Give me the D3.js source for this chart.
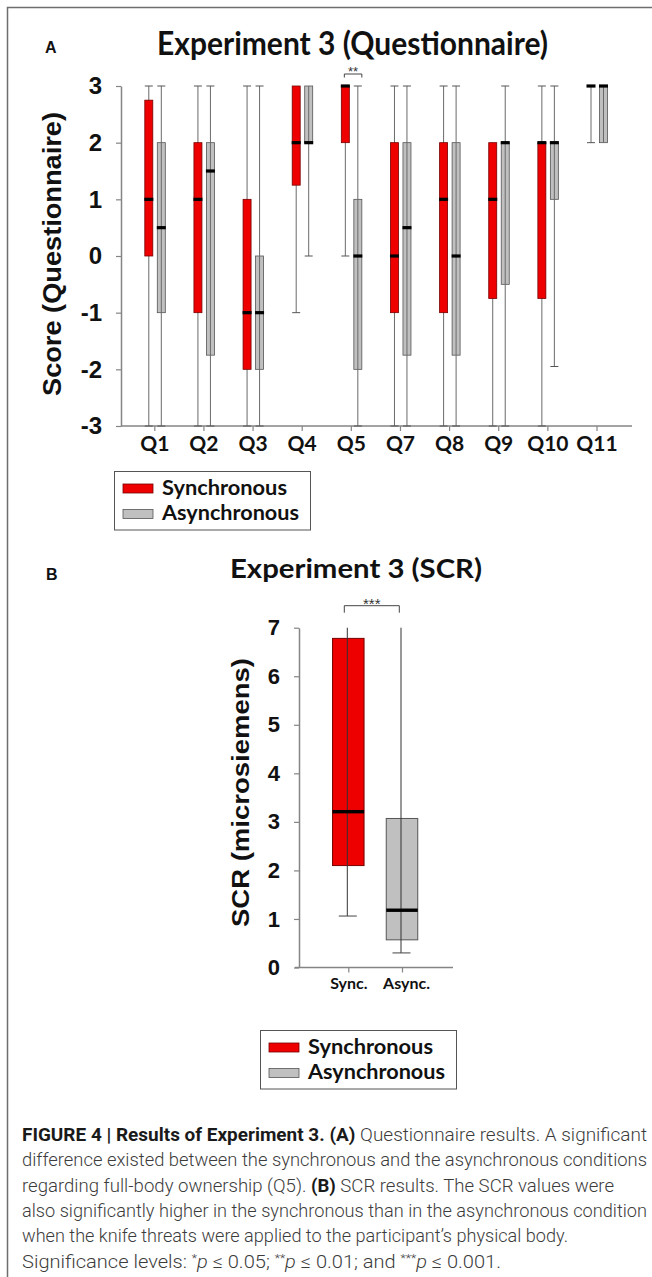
<!DOCTYPE html>
<html><head><meta charset="utf-8">
<script src="https://cdn.jsdelivr.net/npm/d3@7"></script>
<style>body{margin:0;background:#fff}svg{display:block}</style>
</head><body><svg id="c" width="652" height="1277"></svg>
<script>
// ---------- Panel A data ----------
const questions = ["Q1","Q2","Q3","Q4","Q5","Q7","Q8","Q9","Q10","Q11"];
const scoreTicks = [-3,-2,-1,0,1,2,3];
const syncLow  = [-3,-3,-3,-1, 0,-3,-3,-3,-3, 2];
const syncQ1   = [ 0,-1,-2,1.25,2,-1,-1,-0.75,-0.75,3];
const syncMed  = [ 1, 1,-1, 2, 3, 0, 1, 1, 2, 3];
const syncQ3   = [2.75,2,1, 3, 3, 2, 2, 2, 2, 3];
const syncHigh = [ 3, 3, 3, 3, 3, 3, 3, 2, 3, 3];
const asyncLow  = [-3,-3,-3, 0,-3,-3,-3,-3,-1.95,2];
const asyncQ1   = [-1,-1.75,-2,2,-2,-1.75,-1.75,-0.5,1,2];
const asyncMed  = [0.5,1.5,-1,2, 0,0.5, 0, 2, 2, 3];
const asyncQ3   = [ 2, 2, 0, 3, 1, 2, 2, 2, 2, 3];
const asyncHigh = [ 3, 3, 3, 3, 3, 3, 3, 3, 3, 3];
// ---------- Panel B data ----------
const scrConds = ["Sync.","Async."];
const scrTicks = [0,1,2,3,4,5,6,7];
const scrLow  = [1.06,0.30];
const scrQ1   = [2.10,0.57];
const scrMed  = [3.21,1.18];
const scrQ3   = [6.78,3.07];
const scrHigh = [7.0,7.0];
const legendLabels = ["Synchronous","Asynchronous"];

const RED = "#ee0000", GRAY = "#c0c0c0";
const calibri = "Lato, 'Open Sans', sans-serif";
const arial = "'Liberation Sans', Arial, sans-serif";
const W = 652, H = 1277;
const svg = d3.select("#c");
svg.append("rect").attr("width", W).attr("height", H).attr("fill", "#fff");
// frame
svg.append("path").attr("d", `M7.5,${H}V7.5H${W}`).attr("fill","none").attr("stroke","#6e6e6e").attr("stroke-width",1.5);

function fitText(g, txt, x, y, size, width, opts = {}) {
  const t = g.append("text").attr("x", x).attr("y", y)
    .attr("font-family", opts.family || calibri).attr("font-weight", opts.weight || 700)
    .attr("font-size", size).attr("fill", opts.fill || "#111")
    .attr("text-anchor", opts.anchor || "start").text(txt);
  if (width) t.attr("textLength", width).attr("lengthAdjust", "spacingAndGlyphs");
  if (opts.rotate) t.attr("transform", `rotate(${opts.rotate},${x},${y})`);
  return t;
}

// ---------- Panel A ----------
const gA = svg.append("g");
fitText(gA, "A", 45, 53, 16, null, {family: arial});
fitText(gA, "Experiment 3 (Questionnaire)", 352.5, 55, 33, 391, {anchor: "middle"});

const yA = d3.scaleLinear().domain([-3, 3]).range([426, 86]);
const xA = d3.scalePoint().domain(questions).range([154.3, 596.5]);
const AX = "#858585";

const yAxisA = gA.append("g").attr("transform", "translate(121,0)")
  .call(d3.axisLeft(yA).tickValues(scoreTicks).tickSize(5).tickSizeOuter(0).tickPadding(14).tickFormat(d => String(d)));
yAxisA.select(".domain").attr("stroke", AX).attr("stroke-width", 1.5);
yAxisA.selectAll(".tick line").attr("stroke", AX).attr("stroke-width", 1.2);
yAxisA.selectAll(".tick text").attr("font-family", arial).attr("font-weight", 700).attr("font-size", 24).attr("fill", "#111");

gA.append("line").attr("x1", 121).attr("x2", 632).attr("y1", 426).attr("y2", 426).attr("stroke", AX).attr("stroke-width", 1.5);
const xAxisA = gA.append("g").attr("transform", "translate(0,426)")
  .call(d3.axisBottom(xA).tickSize(5).tickSizeOuter(0));
xAxisA.select(".domain").remove();
xAxisA.selectAll(".tick line").attr("stroke", AX).attr("stroke-width", 1.2);
xAxisA.selectAll(".tick text").attr("font-family", calibri).attr("font-weight", 700).attr("font-size", 21)
  .attr("fill", "#111").attr("dy", null).attr("y", 24.7);

const boxW = 8, capW = 8;
const seriesA = [
  {off: -5.5, fill: RED, stroke: "#700", low: syncLow, q1: syncQ1, med: syncMed, q3: syncQ3, high: syncHigh, lineOver: false},
  {off: 7, fill: GRAY, stroke: "#555", low: asyncLow, q1: asyncQ1, med: asyncMed, q3: asyncQ3, high: asyncHigh, lineOver: true}
];
seriesA.forEach(s => {
  questions.forEach((q, i) => {
    const cx = xA(q) + s.off;
    const wl = () => gA.append("line").attr("x1", cx).attr("x2", cx)
      .attr("y1", yA(s.high[i])).attr("y2", yA(s.low[i])).attr("stroke", "#6a6a6a").attr("stroke-width", 1);
    if (!s.lineOver) wl();
    if (s.q3[i] > s.q1[i]) {
      gA.append("rect").attr("x", cx - boxW/2).attr("width", boxW)
        .attr("y", yA(s.q3[i])).attr("height", yA(s.q1[i]) - yA(s.q3[i]))
        .attr("fill", s.fill).attr("stroke", s.stroke).attr("stroke-width", 0.8);
    }
    if (s.lineOver) wl();
    if (s.high[i] > s.q3[i]) gA.append("line").attr("x1", cx - capW/2).attr("x2", cx + capW/2)
      .attr("y1", yA(s.high[i])).attr("y2", yA(s.high[i])).attr("stroke", "#555").attr("stroke-width", 1);
    if (s.low[i] < s.q1[i]) gA.append("line").attr("x1", cx - capW/2).attr("x2", cx + capW/2)
      .attr("y1", yA(s.low[i])).attr("y2", yA(s.low[i])).attr("stroke", "#555").attr("stroke-width", 1);
    gA.append("rect").attr("x", cx - boxW/2 - 0.5).attr("width", boxW + 1)
      .attr("y", yA(s.med[i]) - 1.6).attr("height", 3.2).attr("fill", "#000");
  });
});
// significance Q5
{
  const x0 = xA("Q5") - 6.5, x1 = xA("Q5") + 11;
  gA.append("path").attr("d", `M${x0},77.5V74H${x1}V77.5`).attr("fill", "none").attr("stroke", "#444").attr("stroke-width", 1);
  fitText(gA, "**", (x0 + x1) / 2, 76, 13, null, {family: arial, weight: 400, anchor: "middle", fill: "#333"});
}
fitText(gA, "Score (Questionnaire)", 61, 254, 26, 284, {family: arial, anchor: "middle", rotate: -90});

function legend(g, x, y) {
  g.append("rect").attr("x", x + 0.5).attr("y", y + 0.5).attr("width", 196).attr("height", 58.5)
    .attr("fill", "#fff").attr("stroke", "#555").attr("stroke-width", 1);
  [RED, GRAY].forEach((c, i) => {
    g.append("rect").attr("x", x + 9).attr("y", y + 13 + i * 25.5).attr("width", 30).attr("height", 9)
      .attr("fill", c).attr("stroke", i ? "#555" : "#700").attr("stroke-width", 0.8);
    fitText(g, legendLabels[i], x + 48, y + 23.5 + i * 25.5, 21, i ? 137 : 125);
  });
}
legend(gA, 114, 471);

// ---------- Panel B ----------
const gB = svg.append("g");
fitText(gB, "B", 46, 580, 16, null, {family: arial});
fitText(gB, "Experiment 3 (SCR)", 356, 578, 27, 252, {anchor: "middle"});

const yB = d3.scaleLinear().domain([0, 7]).range([967.5, 627.7]);
const xB = d3.scalePoint().domain(scrConds).range([348.3, 402]);
const yAxisB = gB.append("g").attr("transform", "translate(299,0)")
  .call(d3.axisLeft(yB).tickValues(scrTicks).tickSize(5).tickSizeOuter(0).tickPadding(14).tickFormat(d => String(d)));
yAxisB.select(".domain").attr("stroke", AX).attr("stroke-width", 1.5);
yAxisB.selectAll(".tick line").attr("stroke", AX).attr("stroke-width", 1.2);
yAxisB.selectAll(".tick text").attr("font-family", arial).attr("font-weight", 700).attr("font-size", 22).attr("fill", "#111");

gB.append("line").attr("x1", 295).attr("x2", 453).attr("y1", 967.5).attr("y2", 967.5).attr("stroke", AX).attr("stroke-width", 1.5);
const xAxisB = gB.append("g").attr("transform", "translate(0,967.5)")
  .call(d3.axisBottom(xB).tickSize(5).tickSizeOuter(0));
xAxisB.select(".domain").remove();
xAxisB.selectAll(".tick line").attr("stroke", AX).attr("stroke-width", 1.2);
xAxisB.selectAll(".tick text").attr("font-family", calibri).attr("font-weight", 700).attr("font-size", 16)
  .attr("fill", "#111").attr("dy", null).attr("y", 21.5).attr("dx", (d, i) => i ? 4 : 0);

const bW = 31.5;
scrConds.forEach((c, i) => {
  const cx = xB(c);
  gB.append("rect").attr("x", cx - bW/2).attr("width", bW)
    .attr("y", yB(scrQ3[i])).attr("height", yB(scrQ1[i]) - yB(scrQ3[i]))
    .attr("fill", i ? GRAY : RED).attr("stroke", i ? "#555" : "#700").attr("stroke-width", 1);
  gB.append("line").attr("x1", cx - 1).attr("x2", cx - 1).attr("y1", yB(scrHigh[i])).attr("y2", yB(scrLow[i]))
    .attr("stroke", "#333").attr("stroke-width", 1);
  gB.append("line").attr("x1", cx - 9.5).attr("x2", cx + 8.5).attr("y1", yB(scrLow[i])).attr("y2", yB(scrLow[i]))
    .attr("stroke", "#444").attr("stroke-width", 1);
  gB.append("rect").attr("x", cx - bW/2).attr("width", bW).attr("y", yB(scrMed[i]) - 1.7).attr("height", 3.4).attr("fill", "#000");
});
{
  const x0 = xB("Sync.") - 4, x1 = xB("Async.") - 2.7;
  gB.append("path").attr("d", `M${x0},612.7V605.7H${x1}V612.7`).attr("fill", "none").attr("stroke", "#444").attr("stroke-width", 1);
  fitText(gB, "***", (x0 + x1) / 2, 609, 15, null, {family: arial, weight: 400, anchor: "middle", fill: "#333"});
}
fitText(gB, "SCR (microsiemens)", 249, 792.5, 24, 269, {family: arial, anchor: "middle", rotate: -90});
legend(gB, 260, 1030);

// ---------- Caption ----------
const captionLines = [
  [["FIGURE 4 | Results of Experiment 3. (A)", "b"], [" Questionnaire results. A significant", ""]],
  [["difference existed between the synchronous and the asynchronous conditions", ""]],
  [["regarding full-body ownership (Q5). ", ""], ["(B)", "b"], [" SCR results. The SCR values were", ""]],
  [["also significantly higher in the synchronous than in the asynchronous condition", ""]],
  [["when the knife threats were applied to the participant\u2019s physical body.", ""]],
  [["Significance levels: ", ""], ["*", "s"], ["p", "i"], [" \u2264 0.05; ", ""], ["**", "s"], ["p", "i"], [" \u2264 0.01; and ", ""], ["***", "s"], ["p", "i"], [" \u2264 0.001.", ""]]
];
const captionWidths = [625, 625, 592, 625, 546, 479];
captionLines.forEach((segs, li) => {
  const t = svg.append("text").attr("x", 22).attr("y", 1141 + li * 25.3)
    .attr("font-family", "Roboto, 'Liberation Sans', sans-serif").attr("font-weight", 300)
    .attr("font-size", 18).attr("fill", "#3c3c3c")
    .attr("textLength", captionWidths[li]).attr("lengthAdjust", "spacingAndGlyphs");
  segs.forEach(([txt, st]) => {
    const sp = t.append("tspan").text(txt);
    if (st === "b") sp.attr("font-weight", 700).attr("fill", "#1a1a1a");
    if (st === "i") sp.attr("font-style", "italic");
    if (st === "s") sp.attr("font-size", 11).attr("baseline-shift", "super");
  });
});
</script></body></html>
